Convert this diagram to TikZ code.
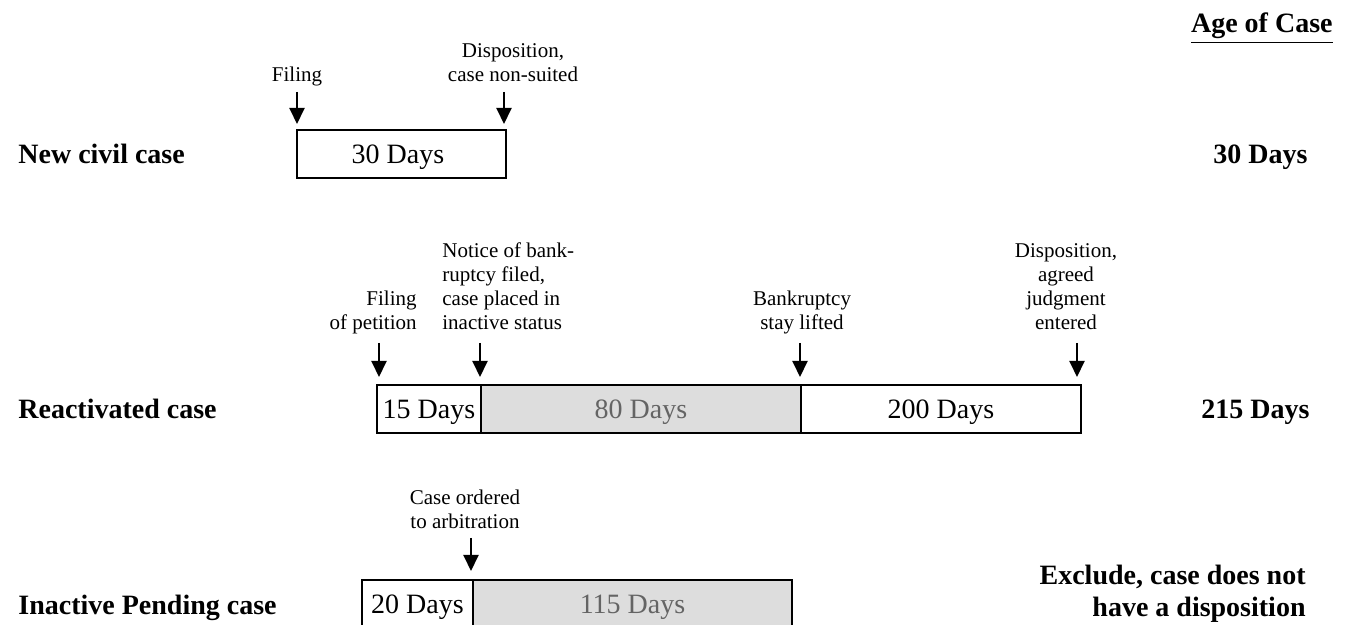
\documentclass[tikz,border=0pt]{standalone}
\usepackage{fontspec}
\setmainfont{Liberation Serif}
\usepackage{tikz}
\usetikzlibrary{arrows.meta}

\definecolor{idlegray}{RGB}{221,221,221}
\definecolor{idletext}{RGB}{100,100,100}

\tikzset{
  segbox/.style={draw=black, line width=1pt, fill=white},
  idlebox/.style={draw=black, line width=1pt, fill=idlegray},
  evt/.style={-{Triangle[width=7.5pt,length=8pt]}, line width=1pt},
  note/.style={font=\fontsize{10.5}{12}\selectfont, inner sep=0pt},
  rowlab/.style={font=\fontsize{14}{16}\selectfont\bfseries, inner sep=0pt, anchor=base west},
  agelab/.style={font=\fontsize{14}{16}\selectfont\bfseries, inner sep=0pt, anchor=base east, align=right},
  days/.style={font=\fontsize{14}{16}\selectfont, inner sep=0pt, anchor=base},
  idledays/.style={days, text=idletext},
}

\begin{document}
\begin{tikzpicture}[x=0.5pt, y=-0.5pt]
        \useasboundingbox (0,0) rectangle (1345,625);
        \clip (0,0) rectangle (1345,625);

        \node[agelab] (age) at (1333,33) {\underline{Age of Case}};

        % new civil case
        \node[rowlab] (civil) at (18,164) {New civil case};
        \filldraw[segbox] (297,130) rectangle (506,178);
        \node[days] (civil1) at (398,164) {30 Days};
        \node[agelab] (civilage) at (1308,164) {30 Days};

        \node[note, anchor=base] (filing) at (297,82) {Filing};
        \node[note, anchor=base, align=center] (dispo) at (513,82) {Disposition,\\case non-suited};
        \coordinate (filingtop) at (297,92);
        \coordinate (filingtip) at (297,124);
        \coordinate (dispotop) at (504,92);
        \coordinate (dispotip) at (504,124);
        \draw[evt] (filingtop) -- (filingtip);
        \draw[evt] (dispotop) -- (dispotip);

        % reactivated case
        \node[rowlab] (react) at (18,419) {Reactivated case};
        \filldraw[segbox] (377,385) rectangle (481,433);
        \filldraw[idlebox] (481,385) rectangle (801,433);
        \filldraw[segbox] (801,385) rectangle (1081,433);
        \node[days] (react1) at (429,419) {15 Days};
        \node[idledays] (react2) at (641,419) {80 Days};
        \node[days] (react3) at (941,419) {200 Days};
        \node[agelab] (reactage) at (1310,419) {215 Days};

        \node[note, anchor=base east, align=right] (petition) at (417,330) {Filing\\of petition};
        \node[note, anchor=base west, align=left] (notice) at (442,330) {Notice of bank-\\ruptcy filed,\\case placed in\\inactive status};
        \node[note, anchor=base, align=center] (lifted) at (802,330) {Bankruptcy\\stay lifted};
        \node[note, anchor=base, align=center] (agreed) at (1066,330) {Disposition,\\agreed\\judgment\\entered};
        \coordinate (petitiontop) at (379,343);
        \coordinate (petitiontip) at (379,377);
        \coordinate (noticetop) at (480,343);
        \coordinate (noticetip) at (480,377);
        \coordinate (liftedtop) at (800,343);
        \coordinate (liftedtip) at (800,377);
        \coordinate (agreedtop) at (1077,343);
        \coordinate (agreedtip) at (1077,377);
        \draw[evt] (petitiontop) -- (petitiontip);
        \draw[evt] (noticetop) -- (noticetip);
        \draw[evt] (liftedtop) -- (liftedtip);
        \draw[evt] (agreedtop) -- (agreedtip);

        % inactive pending case
        \node[rowlab] (pend) at (18,615) {Inactive Pending case};
        \filldraw[segbox] (362,580) rectangle (473,628);
        \filldraw[idlebox] (473,580) rectangle (792,628);
        \node[days] (pend1) at (417.5,614) {20 Days};
        \node[idledays] (pend2) at (632.5,614) {115 Days};
        \node[agelab] (pendage) at (1306,617) {Exclude, case does not\\have a disposition};

        \node[note, anchor=base, align=center] (arbit) at (465,529) {Case ordered\\to arbitration};
        \coordinate (arbittop) at (471,538);
        \coordinate (arbittip) at (471,571);
        \draw[evt] (arbittop) -- (arbittip);
\end{tikzpicture}
\end{document}
